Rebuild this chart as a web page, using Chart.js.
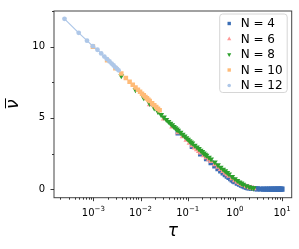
<!DOCTYPE html>
<html>
<head>
<meta charset="utf-8">
<script src="https://cdn.jsdelivr.net/npm/chart.js@4.4.1/dist/chart.umd.min.js"></script>
<style>
  html, body { margin: 0; padding: 0; background: #fff; }
  canvas { display: block; }
</style>
</head>
<body>
<canvas id="chart" width="299" height="249"></canvas>
<script>
// time grid (tau) and mean value (nu bar), one pair of arrays per N
const tau4 = [0.0625, 0.125, 0.1875, 0.25, 0.3125, 0.375, 0.4375, 0.5, 0.5625, 0.625, 0.6875, 0.75, 0.8125, 0.875, 0.9375, 1.0,
  1.125, 1.25, 1.375, 1.5, 1.625, 1.75, 1.875, 2.0, 2.25, 2.5, 2.75, 3.0, 3.5, 4.0, 4.5, 5.0, 5.5, 6.0, 6.5, 7.0, 7.5, 8.0, 8.5, 9.0, 9.5, 10.0];
const nu4 = [3.95, 2.99, 2.47, 2.14, 1.85, 1.63, 1.44, 1.28, 1.14, 1.02, 0.91, 0.82, 0.73, 0.65, 0.58, 0.52,
  0.42, 0.34, 0.27, 0.22, 0.18, 0.14, 0.11, 0.09, 0.06, 0.04, 0.03, 0.02, 0.01, 0, 0, 0, 0, 0, 0, 0, 0, 0, 0, 0, 0, 0];

const tau6 = [0.015625, 0.03125, 0.046875, 0.0625, 0.078125, 0.09375, 0.109375, 0.125, 0.140625, 0.15625, 0.171875, 0.1875,
  0.21875, 0.25, 0.28125, 0.3125, 0.375, 0.4375, 0.5, 0.5625, 0.625, 0.6875, 0.75, 0.875, 1.0, 1.125, 1.25, 1.375, 1.5, 1.75, 2.0, 2.25, 2.5];
const nu6 = [5.93, 4.94, 4.37, 3.98, 3.69, 3.45, 3.24, 3.06, 2.90, 2.77, 2.65, 2.55,
  2.36, 2.21, 2.07, 1.95, 1.73, 1.55, 1.39, 1.26, 1.13, 1.02, 0.92, 0.75, 0.61, 0.50, 0.41, 0.34, 0.27, 0.18, 0.12, 0.08, 0.05];

const tau8 = [0.00390625, 0.0078125, 0.01171875, 0.015625, 0.01953125, 0.0234375, 0.02734375, 0.03125, 0.03515625, 0.0390625,
  0.04296875, 0.046875, 0.05078125, 0.0546875, 0.05859375, 0.0625, 0.0703125, 0.078125, 0.0859375, 0.09375, 0.1015625, 0.109375,
  0.1171875, 0.125, 0.140625, 0.15625, 0.171875, 0.1875, 0.203125, 0.21875, 0.234375, 0.25, 0.28125, 0.3125, 0.375, 0.4375, 0.5,
  0.5625, 0.625, 0.6875, 0.75, 0.875, 1.0, 1.125, 1.25, 1.375, 1.5, 1.75, 2.0, 2.25, 2.5];
const nu8 = [7.95, 6.97, 6.40, 6.00, 5.69, 5.43, 5.22, 5.04, 4.88, 4.74,
  4.61, 4.50, 4.39, 4.29, 4.20, 4.12, 3.97, 3.83, 3.71, 3.60, 3.49, 3.39,
  3.30, 3.22, 3.07, 2.95, 2.83, 2.72, 2.62, 2.52, 2.44, 2.37, 2.23, 2.11, 1.89, 1.69, 1.53,
  1.39, 1.27, 1.16, 1.05, 0.87, 0.72, 0.60, 0.49, 0.41, 0.33, 0.23, 0.16, 0.11, 0.08];

const tau10 = [0.0009765625, 0.001953125, 0.0029296875, 0.00390625, 0.0048828125, 0.005859375, 0.0068359375, 0.0078125,
  0.0087890625, 0.009765625, 0.0107421875, 0.01171875, 0.0126953125, 0.013671875, 0.0146484375, 0.015625,
  0.017578125, 0.01953125, 0.021484375, 0.0234375, 0.025390625];
const nu10 = [10.00, 9.04, 8.48, 8.11, 7.80, 7.54, 7.32, 7.14,
  6.98, 6.83, 6.70, 6.58, 6.47, 6.37, 6.27, 6.19,
  6.03, 5.89, 5.76, 5.64, 5.53];

const tau12 = [0.000244140625, 0.00048828125, 0.000732421875, 0.0009765625, 0.001220703125, 0.00146484375, 0.001708984375,
  0.001953125, 0.002197265625, 0.00244140625, 0.002685546875, 0.0029296875, 0.003173828125, 0.00341796875];
const nu12 = [11.95, 10.97, 10.42, 10.03, 9.78, 9.52, 9.30, 9.12, 8.96, 8.81, 8.68, 8.55, 8.44, 8.34];

const seriesLabels = ["N = 4", "N = 6", "N = 8", "N = 10", "N = 12"];
const xMajorTicks = [1e-3, 1e-2, 1e-1, 1, 10];
const xTickExponents = ["\u22123", "\u22122", "\u22121", "0", "1"];
const yTicks = [0, 2.5, 5, 7.5, 10, 12.5];
const yTickLabels = ["0", "", "5", "", "10", ""];

const X_MIN = Math.pow(10, -3.835);
const X_MAX = Math.pow(10, 1.205);

const pts = (t, n) => t.map((v, i) => ({ x: v, y: n[i] }));

// minor log ticks 2..9 x 10^k inside the range
const xMinorTicks = [];
for (let d = -4; d <= 1; d++) {
  for (let m = 2; m <= 9; m++) {
    const v = m * Math.pow(10, d);
    if (v >= X_MIN && v <= X_MAX) xMinorTicks.push(v);
  }
}

Chart.defaults.font.family = '"DejaVu Sans", sans-serif';
Chart.defaults.font.size = 10;
Chart.defaults.color = "#000";

const frame = {
  id: "frame",
  afterDraw(chart) {
    const { ctx, chartArea: a, scales } = chart;
    const x = scales.x, y = scales.y;
    ctx.save();
    ctx.strokeStyle = "#444";
    ctx.lineWidth = 1;
    ctx.strokeRect(a.left, a.top, a.right - a.left, a.bottom - a.top);

    ctx.strokeStyle = "#222";
    ctx.lineWidth = 0.9;
    ctx.beginPath();
    xMajorTicks.forEach(v => {
      const px = Math.round(x.getPixelForValue(v)) + 0.5;
      ctx.moveTo(px, a.bottom); ctx.lineTo(px, a.bottom + 3.5);
    });
    xMinorTicks.forEach(v => {
      const px = Math.round(x.getPixelForValue(v)) + 0.5;
      ctx.moveTo(px, a.bottom); ctx.lineTo(px, a.bottom + 2);
    });
    yTicks.forEach((v, i) => {
      const py = Math.round(y.getPixelForValue(v)) + 0.5;
      const len = yTickLabels[i] ? 3.5 : 2;
      ctx.moveTo(a.left, py); ctx.lineTo(a.left - len, py);
    });
    ctx.stroke();

    // x tick labels as 10 with a raised exponent
    ctx.fillStyle = "#000";
    ctx.textBaseline = "alphabetic";
    ctx.textAlign = "left";
    xMajorTicks.forEach((v, i) => {
      const px = x.getPixelForValue(v);
      ctx.font = '10px "DejaVu Sans"';
      const wb = ctx.measureText("10").width;
      ctx.font = '7px "DejaVu Sans"';
      const we = ctx.measureText(xTickExponents[i]).width;
      const x0 = px - (wb + we) / 2;
      ctx.font = '10px "DejaVu Sans"';
      ctx.fillText("10", x0, a.bottom + 18);
      ctx.font = '7px "DejaVu Sans"';
      ctx.fillText(xTickExponents[i], x0 + wb, a.bottom + 13);
    });

    // axis titles
    ctx.font = 'italic 17px "DejaVu Sans"';
    ctx.textAlign = "center";
    ctx.fillText("\u03C4", (a.left + a.right) / 2, 236);

    ctx.save();
    ctx.translate(17.5, (a.top + a.bottom) / 2);
    ctx.rotate(-Math.PI / 2);
    ctx.fillText("\u03BD", 0, 0);
    ctx.lineWidth = 1;
    ctx.strokeStyle = "#000";
    ctx.beginPath();
    ctx.moveTo(-4, -12); ctx.lineTo(6, -12);
    ctx.stroke();
    ctx.restore();

    // legend in the upper right corner of the axes
    const lx = a.right - 72.5, ly = a.top + 2.5, lw = 67.5, lh = 78.5;
    ctx.beginPath();
    ctx.roundRect(lx + 0.5, ly + 0.5, lw, lh, 3);
    ctx.fillStyle = "rgba(255,255,255,0.8)";
    ctx.fill();
    ctx.strokeStyle = "#d6d6d6";
    ctx.lineWidth = 1;
    ctx.stroke();

    ctx.font = '12px "DejaVu Sans"';
    ctx.textAlign = "left";
    ctx.textBaseline = "middle";
    chart.data.datasets.forEach((ds, i) => {
      const cy = ly + 10 + i * 15.5;
      ctx.fillStyle = ds.backgroundColor;
      if (Chart.helpers && Chart.helpers.drawPoint) {
        Chart.helpers.drawPoint(ctx, {
          pointStyle: ds.pointStyle, rotation: ds.pointRotation || 0,
          radius: ds.pointStyle === "circle" ? 1.8 : 2.4, borderWidth: 0
        }, lx + 10, cy);
      }
      ctx.fillStyle = "#000";
      ctx.fillText(ds.label, lx + 21.5, cy + 0.5);
    });
    ctx.restore();
  }
};

new Chart(document.getElementById("chart"), {
  type: "scatter",
  data: {
    datasets: [
      { label: seriesLabels[0], data: pts(tau4, nu4), pointStyle: "rect", pointRadius: 3.6,
        backgroundColor: "#3a6db5", borderColor: "#3a6db5", pointBorderWidth: 0, order: 5 },
      { label: seriesLabels[1], data: pts(tau6, nu6), pointStyle: "triangle", pointRadius: 3.4,
        backgroundColor: "#ff9896", borderColor: "#ff9896", pointBorderWidth: 0, order: 4 },
      { label: seriesLabels[2], data: pts(tau8, nu8), pointStyle: "triangle", pointRotation: 180, pointRadius: 3.4,
        backgroundColor: "#2ca02c", borderColor: "#2ca02c", pointBorderWidth: 0, order: 3 },
      { label: seriesLabels[3], data: pts(tau10, nu10), pointStyle: "rect", pointRadius: 3.2,
        backgroundColor: "#ffbb78", borderColor: "#ffbb78", pointBorderWidth: 0, order: 2 },
      { label: seriesLabels[4], data: pts(tau12, nu12), pointStyle: "circle", pointRadius: 2.4,
        backgroundColor: "#aec7e8", borderColor: "#aec7e8", pointBorderWidth: 0, order: 1,
        showLine: true, borderWidth: 1.2 }
    ]
  },
  options: {
    responsive: false,
    devicePixelRatio: 1,
    animation: false,
    layout: { padding: { top: 7.5, right: 7.3, left: 0, bottom: 0 } },
    plugins: { legend: { display: false }, tooltip: { enabled: false } },
    scales: {
      x: {
        type: "logarithmic",
        min: X_MIN,
        max: X_MAX,
        border: { display: false },
        grid: { display: false },
        afterBuildTicks: s => { s.ticks = xMajorTicks.map(v => ({ value: v })); },
        afterFit: s => { s.height = 51.3; },
        ticks: { display: false }
      },
      y: {
        min: -0.6,
        max: 12.5,
        border: { display: false },
        grid: { display: false, drawTicks: true, tickLength: 4 },
        afterBuildTicks: s => { s.ticks = yTicks.map(v => ({ value: v })); },
        afterFit: s => { s.width = 54; },
        ticks: {
          autoSkip: false, padding: 5,
          callback: v => { const i = yTicks.indexOf(v); return i >= 0 ? yTickLabels[i] : ""; }
        }
      }
    }
  },
  plugins: [frame]
});
</script>
</body>
</html>
